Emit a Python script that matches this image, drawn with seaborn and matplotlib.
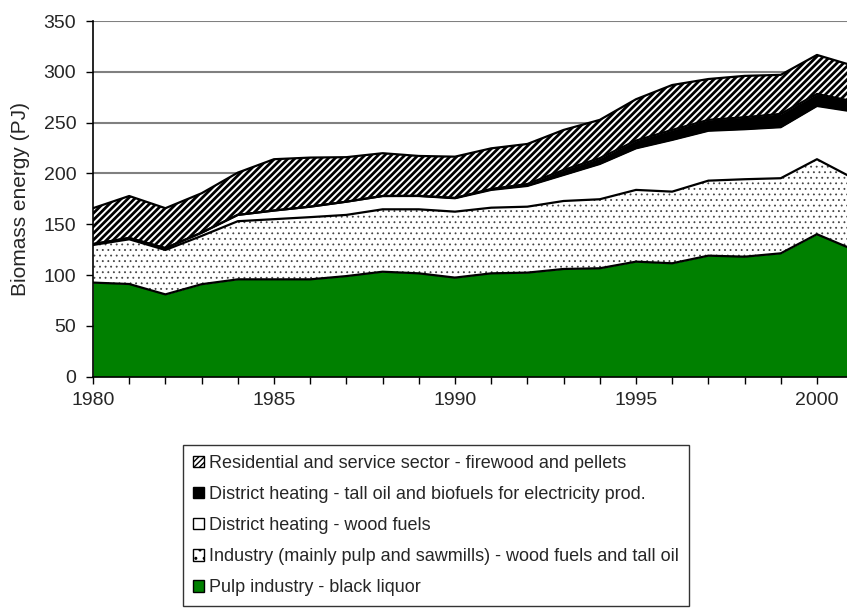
import numpy as np
import pandas as pd
import seaborn as sns
import matplotlib
matplotlib.use("Agg")
import matplotlib.pyplot as plt
from matplotlib.patches import Patch

# data (PJ per layer)
years = list(range(1980, 2002))
pulp_black_liquor = [92.6, 91.2, 81.0, 91.0, 95.8, 95.8, 95.8, 99.0, 103.3, 101.7, 97.5,
                     101.7, 102.4, 106.0, 106.7, 113.2, 111.6, 119.1, 118.1, 121.4, 140.2, 125.1]
industry_wood = [37.0, 44.0, 43.7, 47.5, 57.2, 59.2, 61.2, 60.2, 61.4, 63.0, 64.9,
                 64.6, 64.9, 66.9, 67.9, 70.6, 70.5, 73.8, 76.2, 73.9, 73.8, 70.2]
dh_wood = [0.9, 1.3, 1.8, 3.2, 6.2, 8.5, 10.3, 13.0, 13.1, 13.1, 13.2,
           17.5, 20.4, 25.6, 34.7, 40.9, 50.9, 49.1, 49.2, 50.2, 52.4, 65.6]
dh_tall_oil = [0.0, 0.0, 0.0, 0.0, 0.0, 0.0, 0.0, 0.0, 0.0, 0.2, 0.4,
               1.0, 1.9, 4.9, 5.7, 7.6, 9.8, 10.7, 11.8, 13.1, 11.8, 10.1]
residential = [35.3, 41.3, 39.3, 38.8, 41.6, 50.5, 48.3, 43.8, 42.1, 39.2, 40.5,
               39.9, 39.4, 39.4, 37.7, 40.7, 44.2, 40.2, 40.7, 38.4, 38.4, 35.0]

labels = ["Pulp industry - black liquor",
          "Industry (mainly pulp and sawmills) - wood fuels and tall oil",
          "District heating - wood fuels",
          "District heating - tall oil and biofuels for electricity prod.",
          "Residential and service sector - firewood and pellets"]

df = pd.DataFrame({"year": years, labels[0]: pulp_black_liquor, labels[1]: industry_wood,
                   labels[2]: dh_wood, labels[3]: dh_tall_oil, labels[4]: residential})

sns.set_style("white")
plt.rcParams['font.family'] = ['Liberation Sans', 'DejaVu Sans']

fig = plt.figure(figsize=(8.47, 6.16), dpi=100)
ax = fig.add_axes([93 / 847, 1 - 376.7 / 616, 1 - 93 / 847, (376.7 - 21) / 616])

# fill styles: (face, hatch, hatch colour, hatch width)
styles = [("#008000", None, "#008000", 1.0),
          ("white", "...", "#444444", 0.6),
          ("white", None, "white", 1.0),
          ("black", None, "black", 1.0),
          ("white", "/////", "black", 2.0)]

bottom = np.zeros(len(years))
for lab, (fc, hatch, hc, hw) in zip(labels, styles):
    top = bottom + df[lab].values
    with plt.rc_context({'hatch.linewidth': hw}):
        coll = ax.fill_between(df["year"], bottom, top, facecolor=fc, hatch=hatch,
                               edgecolor=hc, linewidth=0, zorder=2)
        if hasattr(coll, "set_hatch_linewidth"):
            coll.set_hatch_linewidth(hw)
    sns.lineplot(x=df["year"], y=top, color="black", linewidth=1.6, ax=ax, zorder=3)
    bottom = top

ax.set_xlim(1980, 2000.83)
ax.set_ylim(0, 350)
ax.set_yticks(range(0, 351, 50))
ax.set_xticks(years[:-1], minor=True)
ax.set_xticks([1980, 1985, 1990, 1995, 2000])
ax.yaxis.grid(True, color="#808080", linewidth=1.5, zorder=0)
ax.set_axisbelow(True)
for s in ["top", "right"]:
    ax.spines[s].set_visible(False)
for s in ["left", "bottom"]:
    ax.spines[s].set_color("black")
    ax.spines[s].set_linewidth(1.2)
ax.tick_params(axis="both", which="both", direction="out", length=5, width=1,
               color="black", labelsize=14, bottom=True, left=True)
ax.tick_params(axis="y", pad=7)
ax.tick_params(axis="x", pad=6)
ax.set_ylabel("Biomass energy (PJ)", fontsize=15, labelpad=10)
ax.set_xlabel("")

handles = [Patch(facecolor="white", edgecolor="black", hatch="//////", label=labels[4]),
           Patch(facecolor="black", edgecolor="black", label=labels[3]),
           Patch(facecolor="white", edgecolor="black", label=labels[2]),
           Patch(facecolor="white", edgecolor="black", hatch="..", label=labels[1]),
           Patch(facecolor="#008000", edgecolor="black", label=labels[0])]
leg = fig.legend(handles=handles, loc="upper left", bbox_to_anchor=(183 / 847, 1 - 445 / 616),
                 fontsize=13, frameon=True, fancybox=False, edgecolor="black",
                 handlelength=0.6, handleheight=0.6, handletextpad=0.3,
                 labelspacing=0.78, borderpad=0.55, borderaxespad=0)
leg.get_frame().set_linewidth(1.0)

plt.savefig("out.png", dpi=100)
